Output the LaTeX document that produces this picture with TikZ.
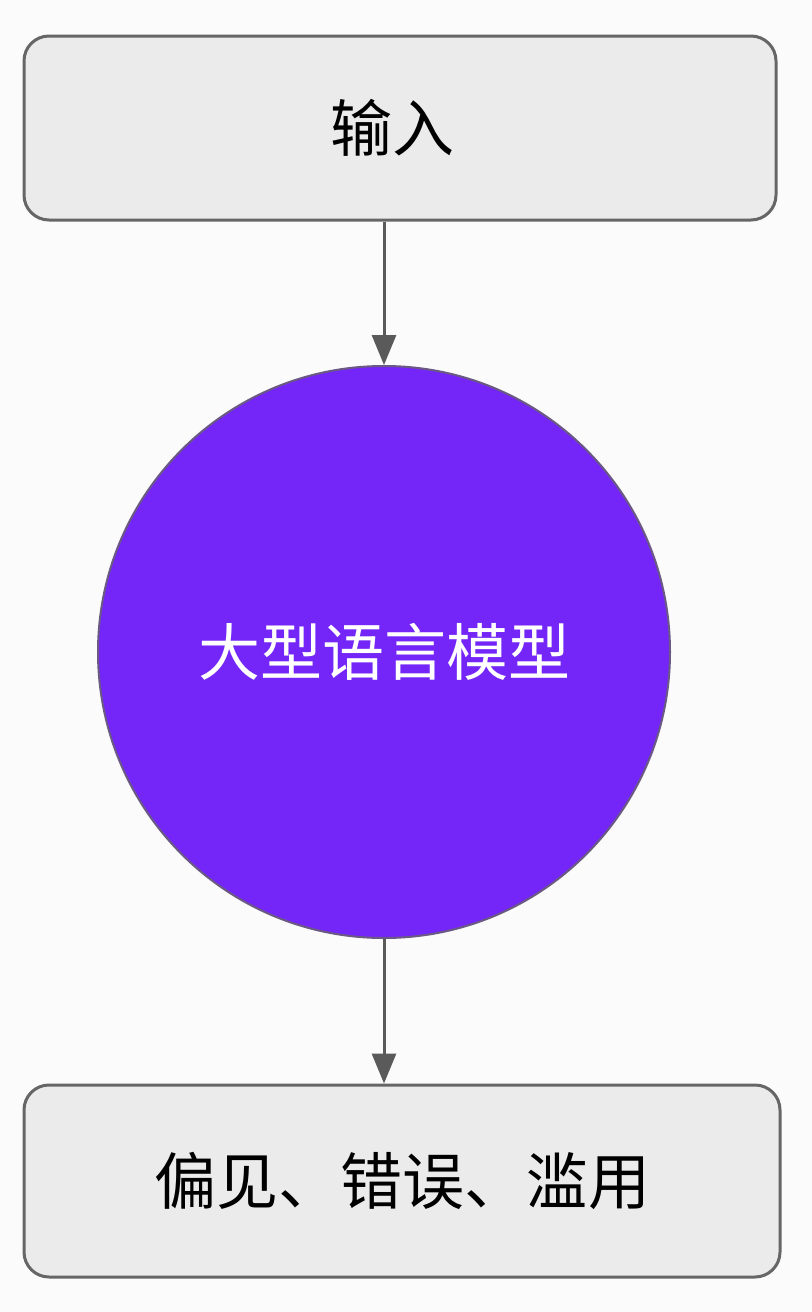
\documentclass[tikz,border=0pt]{standalone}
\usepackage{fontspec}
\setmainfont{Noto Sans CJK SC}
\usetikzlibrary{arrows.meta}
\definecolor{bgc}{HTML}{FBFBFB}
\definecolor{boxfill}{HTML}{EBEBEB}
\definecolor{boxline}{HTML}{666666}
\definecolor{llmfill}{HTML}{7426F8}
\definecolor{arrowc}{HTML}{5A5A5A}
\tikzset{
  stepbox/.style={draw=boxline, fill=boxfill, line width=1.5pt, rounded corners=12.5pt,
    minimum width=376pt, minimum height=92pt, inner sep=0pt, font=\fontsize{31}{36}\selectfont, text=black},
  llm/.style={circle, draw=boxline!80!llmfill, fill=llmfill, line width=1pt, minimum size=286pt,
    inner sep=0pt, font=\fontsize{31}{36}\selectfont, text=white},
  flow/.style={draw=arrowc, line width=1.5pt, -{Triangle[length=15pt,width=12pt]}}
}
\begin{document}
\begin{tikzpicture}[x=0.5pt,y=-0.5pt]
\useasboundingbox[fill=bgc] (0,0) rectangle (812,1312);
\node[stepbox] (in) at (400,128) {\hspace*{-8pt}输入};
\node[llm] (llm) at (384,652) {大型语言模型};
\node[stepbox, minimum width=378pt, minimum height=96pt] (out) at (402,1181) {偏见、错误、滥用};
\draw[flow] (llm.north |- in.south) -- (llm.north);
\draw[flow] (llm.south) -- (llm.south |- out.north);
\end{tikzpicture}
\end{document}
